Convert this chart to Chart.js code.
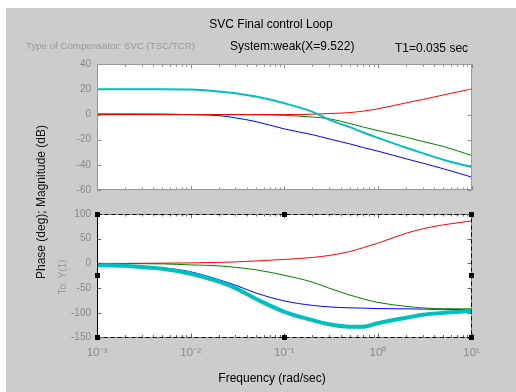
<!DOCTYPE html>
<html><head><meta charset="utf-8">
<script src="https://cdn.jsdelivr.net/npm/chart.js@4"></script>
<style>
html,body{margin:0;padding:0;width:516px;height:392px;overflow:hidden;background:#fff;}
#fig{position:absolute;left:6px;top:8px;width:510px;height:384px;background:#cccccc;}
canvas{position:absolute;left:0;top:0;}
.t{position:absolute;font-family:"Liberation Sans",Arial,sans-serif;white-space:nowrap;line-height:1;}
</style></head><body>
<div id="fig"></div>
<canvas id="mag" width="516" height="392"></canvas>
<canvas id="ph" width="516" height="392"></canvas>
<div class="t" style="left:271px;top:18px;font-size:12px;color:#000;transform:translateX(-50%);">SVC Final control Loop</div>
<div class="t" style="left:26px;top:41px;font-size:9.7px;color:#9a9a9a;">Type of Compensator: SVC (TSC/TCR)</div>
<div class="t" style="left:230px;top:40px;font-size:12px;color:#000;">System:weak(X=9.522)</div>
<div class="t" style="left:395px;top:42px;font-size:12px;color:#000;">T1=0.035 sec</div>
<div class="t" style="left:41px;top:202px;font-size:12px;color:#111;transform:translate(-50%,-50%) rotate(-90deg);">Phase (deg); Magnitude (dB)</div>
<div class="t" style="left:63px;top:277px;font-size:10px;color:#9a9a9a;transform:translate(-50%,-50%) rotate(-90deg);">To: Y(1)</div>
<div class="t" style="left:272px;top:372px;font-size:12px;color:#000;transform:translateX(-50%);">Frequency (rad/sec)</div>
<script>
// ---- data ----
const freq      = [0.001,0.002,0.005,0.01,0.02,0.03,0.05,0.1,0.2,0.3,0.5,0.7,1,2,3,5,10];
const magRed    = [0,0,0,0,0,0,0,0,0.3,0.8,1.6,2.8,4.6,9.3,12,15.6,20.4];
const magGreen  = [0,0,0,0,0,0,-0.1,-0.6,-2,-3.3,-7.1,-10,-12.7,-18,-21.4,-25.4,-32.5];
const magBlue   = [0.5,0.5,0.4,0,-0.8,-2.6,-5.6,-11.4,-16,-19.3,-23.3,-26.3,-29.1,-35.2,-38.6,-43.1,-49.7];
const magCyan   = [20.2,20.2,20.2,20,18.4,17,14.3,9,2.2,-4,-10,-14.3,-18.5,-26.4,-30.7,-36,-41.8];
const phRed     = [0,0,0.5,1,2,3,5,8,12,16,24,32,41,61,70,78,86];
const phGreen   = [0,-0.5,-1,-3,-5,-8,-13,-24,-38,-50,-64,-72,-79,-87,-90,-92,-92];
const phBlue    = [-2,-4,-9,-17,-33,-44,-60,-76,-85,-88,-90,-90.5,-91.5,-92,-92.5,-93,-93.5];
const phCyan    = [-3,-5,-11,-21,-37,-50,-72,-98,-115,-123,-128,-128,-121,-110,-104,-100,-96];
const xTickValues = [0.001,0.01,0.1,1,10];
const xTickLabels = ['10\u207B\u00B3','10\u207B\u00B2','10\u207B\u00B9','10\u2070','10\u00B9'];
const magTicks = [40,20,0,-20,-40,-60];
const phTicks  = [100,50,0,-50,-100,-150];

const COLORS = {red:'#ff0000', green:'#008000', blue:'#0000ff', cyan:'#00bfbf'};
const FONT = '"Liberation Sans", Arial, sans-serif';

function pts(vals){ return freq.map((f,i)=>({x:f,y:vals[i]})); }
function ds(vals,color,width,order){
  return {data:pts(vals),borderColor:color,borderWidth:width,pointRadius:0,fill:false,
          cubicInterpolationMode:'monotone',order:order};
}

function boxPlugin(style){
  return {
    id:'box'+style.name,
    beforeDatasetsDraw(chart){
      const {ctx,chartArea:a}=chart;
      ctx.save(); ctx.fillStyle='#ffffff';
      ctx.fillRect(a.left,a.top,a.right-a.left,a.bottom-a.top); ctx.restore();
    },
    afterDatasetsDraw(chart){
      const {ctx,chartArea:a,scales}=chart;
      ctx.save();
      ctx.strokeStyle=style.tick; ctx.lineWidth=1;
      ctx.beginPath();
      for(let e=-3;e<=1;e++){
        for(let k=1;k<=9;k++){
          const v=k*Math.pow(10,e); if(v>10.0001) break;
          const px=Math.round(scales.x.getPixelForValue(v))+0.5;
          const len=(k===1)?4:2.5;
          ctx.moveTo(px,a.bottom); ctx.lineTo(px,a.bottom-len);
          ctx.moveTo(px,a.top); ctx.lineTo(px,a.top+len);
        }
      }
      scales.y.ticks.forEach(t=>{
        const py=Math.round(scales.y.getPixelForValue(t.value))+0.5;
        ctx.moveTo(a.left,py); ctx.lineTo(a.left+4,py);
        ctx.moveTo(a.right,py); ctx.lineTo(a.right-4,py);
      });
      ctx.stroke();
      const L=Math.round(a.left)+0.5,R=Math.round(a.right)-0.5,T=Math.round(a.top)+0.5,B=Math.round(a.bottom)-0.5;
      ctx.strokeStyle=style.box;
      ctx.strokeRect(L,T,R-L,B-T);
      if(style.selected){
        ctx.strokeStyle='#000';
        ctx.setLineDash([4,3]);
        ctx.beginPath();
        ctx.moveTo(L,T);ctx.lineTo(R,T);ctx.lineTo(R,B);ctx.lineTo(L,B);
        ctx.stroke();
        ctx.setLineDash([]);
        ctx.beginPath(); ctx.moveTo(L,T); ctx.lineTo(L,B); ctx.stroke();
        ctx.fillStyle='#000';
        const xs=[a.left,(a.left+a.right)/2,a.right], ys=[a.top,(a.top+a.bottom)/2,a.bottom];
        xs.forEach((x,i)=>ys.forEach((y,j)=>{
          if(i===1&&j===1) return;
          ctx.fillRect(Math.round(x-2.5),Math.round(y-2.5),5,5);
        }));
      }
      ctx.restore();
    }
  };
}

function xScale(show){
  return {
    type:'logarithmic', min:0.001, max:10, display:show,
    afterBuildTicks(s){ s.ticks = xTickValues.map(v=>({value:v})); },
    afterFit(s){ s.height = show ? 30 : 0; },
    grid:{display:false,drawTicks:false}, border:{display:false},
    ticks:{autoSkip:false,maxRotation:0,minRotation:0,padding:8,color:'#8a8a8a',
           font:{family:FONT,size:11.5},
           callback:(v,i)=>xTickLabels[i]}
  };
}
function yScale(min,max,step,labels){
  return {
    min:min,max:max,
    afterBuildTicks(s){ s.ticks = labels.map(v=>({value:v})); },
    afterFit(s){ s.width = 40; },
    grid:{display:false,drawTicks:false}, border:{display:false},
    ticks:{padding:6,color:'#8a8a8a',font:{family:FONT,size:10}}
  };
}

const common = {
  responsive:false, animation:false, devicePixelRatio:1,
  plugins:{legend:{display:false},tooltip:{enabled:false}},
  events:[]
};

new Chart(document.getElementById('mag'),{
  type:'line',
  data:{datasets:[
    ds(magCyan,COLORS.cyan,2,0),
    ds(magRed,COLORS.red,1,1),
    ds(magGreen,COLORS.green,1,2),
    ds(magBlue,COLORS.blue,1,3)
  ]},
  options:Object.assign({},common,{
    layout:{padding:{left:57,right:44.4,top:64.3,bottom:202}},
    scales:{x:xScale(false),y:yScale(-60,40,20,magTicks)}
  }),
  plugins:[boxPlugin({name:'m',tick:'#8a8a8a',box:'#9a9a9a',selected:false})]
});

new Chart(document.getElementById('ph'),{
  type:'line',
  data:{datasets:[
    ds(phCyan,COLORS.cyan,4,0),
    ds(phRed,COLORS.red,1,1),
    ds(phGreen,COLORS.green,1,2),
    ds(phBlue,COLORS.blue,1,3)
  ]},
  options:Object.assign({},common,{
    layout:{padding:{left:57,right:44.4,top:214,bottom:24.5}},
    scales:{x:xScale(true),y:yScale(-150,100,50,phTicks)}
  }),
  plugins:[boxPlugin({name:'p',tick:'#666',box:'#8a8a8a',selected:true})]
});
</script>
</body></html>
